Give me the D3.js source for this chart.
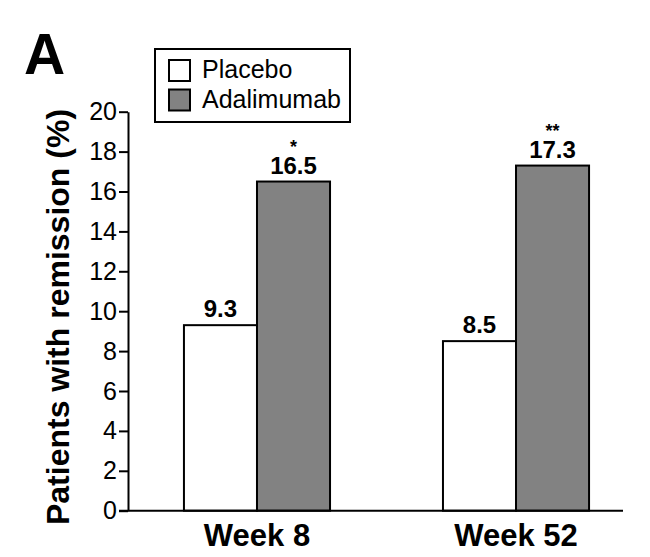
<!DOCTYPE html>
<html>
<head>
<meta charset="utf-8">
<script src="https://cdn.jsdelivr.net/npm/d3@7"></script>
<style>
  html, body { margin: 0; padding: 0; background: #fff; }
  svg { display: block; font-family: "Liberation Sans", Arial, Helvetica, sans-serif; }
</style>
</head>
<body>
<svg id="chart" width="650" height="557"></svg>
<script>
const weeks = ["Week 8", "Week 52"];
const series = ["Placebo", "Adalimumab"];
const placeboValues = [9.3, 8.5];
const adalimumabValues = [16.5, 17.3];
const significance = ["*", "**"];
const yTicks = [0, 2, 4, 6, 8, 10, 12, 14, 16, 18, 20];
const colors = { Placebo: "#ffffff", Adalimumab: "#828282" };

const data = weeks.map((w, i) => ({
  week: w,
  values: [
    { series: "Placebo", value: placeboValues[i] },
    { series: "Adalimumab", value: adalimumabValues[i] }
  ],
  sig: significance[i]
}));

const svg = d3.select("#chart");

const y = d3.scaleLinear().domain([0, 20]).range([510.7, 111.7]);
const x0 = d3.scaleBand().domain(weeks).range([128, 645])
  .paddingInner(0.436).paddingOuter(0.216);
const x1 = d3.scaleBand().domain(series).range([0, x0.bandwidth()]).padding(0);

// Title letter
svg.append("text").attr("x", 24).attr("y", 74)
  .attr("font-size", 57).attr("font-weight", "bold").attr("fill", "#000").text("A");

// Bars
const groups = svg.append("g").selectAll("g").data(data).join("g")
  .attr("transform", d => `translate(${x0(d.week)},0)`);

groups.selectAll("rect").data(d => d.values).join("rect")
  .attr("x", d => x1(d.series))
  .attr("y", d => y(d.value))
  .attr("width", x1.bandwidth())
  .attr("height", d => y(0) - y(d.value))
  .attr("fill", d => colors[d.series])
  .attr("stroke", "#000")
  .attr("stroke-width", 2);

// Value labels
groups.selectAll("text.val").data(d => d.values).join("text")
  .attr("class", "val")
  .attr("x", d => x1(d.series) + x1.bandwidth() / 2)
  .attr("y", d => y(d.value) - 8)
  .attr("text-anchor", "middle")
  .attr("font-size", 24).attr("font-weight", "bold")
  .text(d => d.value.toFixed(1));

// Significance stars
groups.append("text")
  .attr("x", x1("Adalimumab") + x1.bandwidth() / 2)
  .attr("y", d => y(d.values[1].value) - 29)
  .attr("text-anchor", "middle")
  .attr("font-size", 18).attr("font-weight", "bold")
  .text(d => d.sig);

// Y axis
const yAxis = d3.axisLeft(y).tickValues(yTicks).tickSize(9).tickSizeOuter(0).tickPadding(2);
const yg = svg.append("g").attr("transform", "translate(128,0)").call(yAxis);
yg.select(".domain").attr("stroke", "#000").attr("stroke-width", 2);
yg.selectAll(".tick line").attr("stroke", "#000").attr("stroke-width", 2);
yg.selectAll(".tick text").attr("font-size", 25).attr("fill", "#000")
  .attr("font-family", "'Liberation Sans', Arial, Helvetica, sans-serif");

// X baseline
svg.append("line")
  .attr("x1", 119).attr("x2", 623)
  .attr("y1", y(0)).attr("y2", y(0))
  .attr("stroke", "#000").attr("stroke-width", 2);

// X category labels
svg.append("g").selectAll("text").data(weeks).join("text")
  .attr("x", d => x0(d) + x0.bandwidth() / 2)
  .attr("y", 546)
  .attr("text-anchor", "middle")
  .attr("font-size", 31).attr("font-weight", "bold")
  .text(d => d);

// Y label
svg.append("text")
  .attr("transform", "translate(69,317) rotate(-90)")
  .attr("text-anchor", "middle")
  .attr("font-size", 32).attr("font-weight", "bold")
  .text("Patients with remission (%)");

// Legend
const legend = svg.append("g");
legend.append("rect").attr("x", 155).attr("y", 49).attr("width", 195).attr("height", 73)
  .attr("fill", "#fff").attr("stroke", "#000").attr("stroke-width", 2);
const li = legend.selectAll("g").data(series).join("g")
  .attr("transform", (d, i) => `translate(169,${60 + i * 29.5})`);
li.append("rect").attr("width", 21).attr("height", 21)
  .attr("fill", d => colors[d]).attr("stroke", "#000").attr("stroke-width", 2);
li.append("text").attr("x", 33).attr("y", 18)
  .attr("font-size", 25).text(d => d);
</script>
</body>
</html>
